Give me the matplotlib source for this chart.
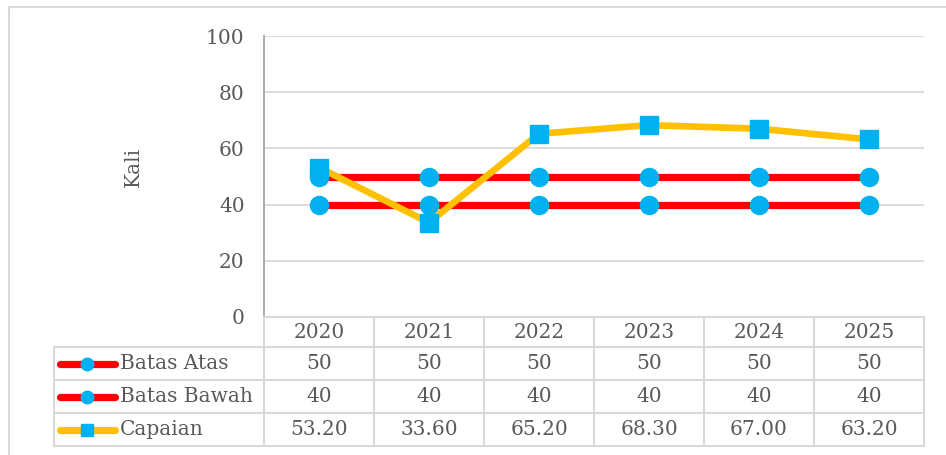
import matplotlib.pyplot as plt
from matplotlib.lines import Line2D
from matplotlib.patches import Rectangle

years = ["2020", "2021", "2022", "2023", "2024", "2025"]
batas_atas = [50, 50, 50, 50, 50, 50]
batas_bawah = [40, 40, 40, 40, 40, 40]
capaian = [53.20, 33.60, 65.20, 68.30, 67.00, 63.20]

RED = "#ff0000"
YELLOW = "#ffc000"
BLUE = "#00b0f0"
GRID = "#d9d9d9"
TXT = "#595959"
FONT = "DejaVu Serif"

W, H = 946, 455
fig = plt.figure(figsize=(W / 100, H / 100), dpi=100)


def fx(px):
    return px / W


def fy(py):
    return 1 - py / H


# outer chart border
fig.add_artist(Rectangle((fx(8.5), fy(470)), fx(950 - 8.5), fy(6.5) - fy(470),
                         transform=fig.transFigure, fill=False,
                         edgecolor=GRID, linewidth=1.5))

ax = fig.add_axes([fx(264), fy(317), fx(924 - 264), fy(36) - fy(317)])
x = list(range(len(years)))

ax.plot(x, batas_atas, color=RED, linewidth=5.2, marker="o",
        markersize=13, markerfacecolor=BLUE, markeredgecolor=BLUE, zorder=3)
ax.plot(x, batas_bawah, color=RED, linewidth=5.2, marker="o",
        markersize=13, markerfacecolor=BLUE, markeredgecolor=BLUE, zorder=3)
ax.plot(x, capaian, color=YELLOW, linewidth=4.8, marker="s",
        markersize=13, markerfacecolor=BLUE, markeredgecolor=BLUE, zorder=4)

ax.set_xlim(-0.5, len(years) - 0.5)
ax.set_ylim(0, 100)
ax.set_yticks([0, 20, 40, 60, 80, 100])
ax.set_xticks([])
ax.grid(axis="y", color=GRID, linewidth=1.3)
ax.set_axisbelow(True)
for s in ["top", "right", "bottom"]:
    ax.spines[s].set_visible(False)
ax.spines["left"].set_color("#a6a6a6")
ax.spines["left"].set_linewidth(1.3)
ax.tick_params(axis="y", length=0, pad=14, labelsize=14.5, labelcolor=TXT)
for lab in ax.get_yticklabels():
    lab.set_fontfamily(FONT)
ax.set_ylabel("Kali", fontsize=14.5, color=TXT, family=FONT, labelpad=0,
              va="center")
ax.yaxis.set_label_coords((133 - 264) / 660, (317 - 167) / 281)

# data table below the plot, sharing the category positions
tb = fig.add_axes([fx(264), fy(446), fx(924 - 264), fy(317) - fy(446)])
tb.set_xlim(-0.5, len(years) - 0.5)
tb.set_ylim(129, 0)
tb.axis("off")

col_w = 660 / len(years)
left = -0.5 - (264 - 54) / col_w
row_edges = [0, 30, 63, 96, 129]
lk = dict(color=GRID, linewidth=1.5, clip_on=False)

tb.plot([-0.5, 5.5], [0, 0], **lk)
for yy in row_edges[1:]:
    tb.plot([left, 5.5], [yy, yy], **lk)
for i in range(len(years) + 1):
    tb.plot([i - 0.5, i - 0.5], [0, 129], **lk)
tb.plot([left, left], [30, 129], **lk)

tk = dict(fontsize=14.5, color=TXT, family=FONT, ha="center", va="center")
for i, yr in enumerate(years):
    tb.text(i, 15, yr, **tk)
    tb.text(i, 46.5, f"{batas_atas[i]}", **tk)
    tb.text(i, 79.5, f"{batas_bawah[i]}", **tk)
    tb.text(i, 112.5, f"{capaian[i]:.2f}", **tk)

rows = [("Batas Atas", RED, "o", 46.5),
        ("Batas Bawah", RED, "o", 79.5),
        ("Capaian", YELLOW, "s", 112.5)]
k0 = -0.5 - (264 - 60) / col_w
k1 = -0.5 - (264 - 115) / col_w
km = (k0 + k1) / 2
for name, lc, mk, yy in rows:
    tb.add_line(Line2D([k0, k1], [yy, yy], color=lc, linewidth=5.2,
                       solid_capstyle="round", clip_on=False))
    tb.add_line(Line2D([km], [yy], marker=mk, markersize=9,
                       markerfacecolor=BLUE, markeredgecolor=BLUE,
                       linestyle="none", clip_on=False))
    tb.text(-0.5 - (264 - 120) / col_w, yy, name, fontsize=14.5, color=TXT,
            family=FONT, ha="left", va="center")

fig.savefig("out.png", dpi=100)
